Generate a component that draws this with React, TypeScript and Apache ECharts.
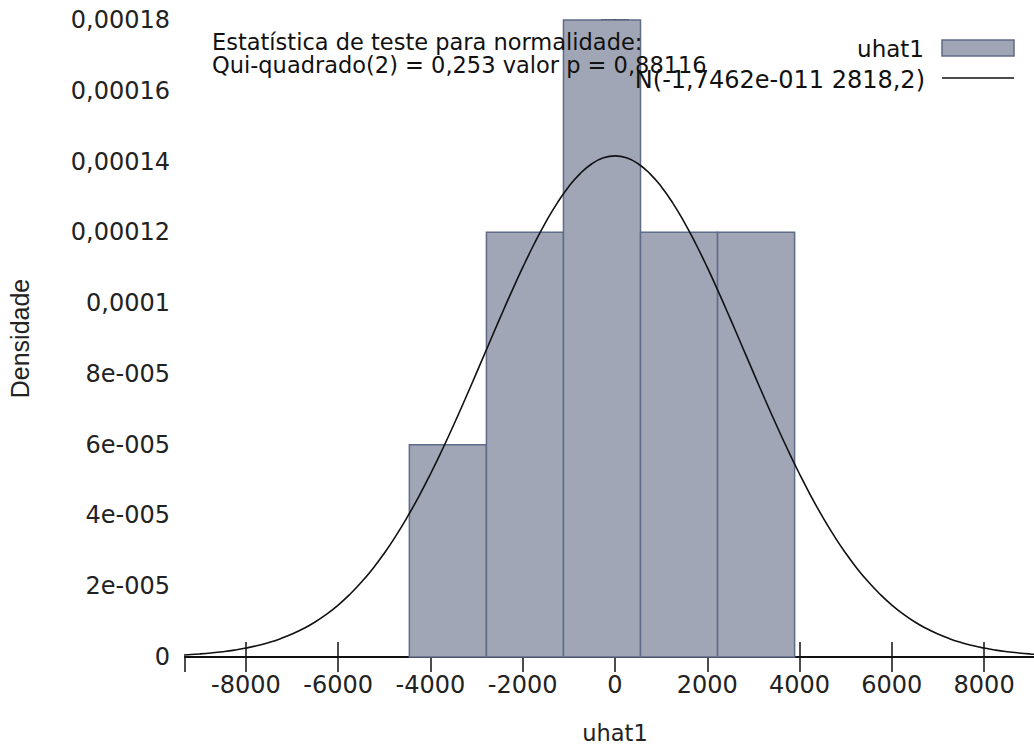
import React, { useEffect, useRef } from "react";
import * as echarts from "echarts";

// Histogram bins: left edge, right edge, density
const binLeft = [-4457, -2787, -1117, 553, 2223];
const binRight = [-2787, -1117, 553, 2223, 3893];
const binDensity = [0.00006, 0.00012, 0.00018, 0.00012, 0.00012];

// Fitted normal curve: N(-1,7462e-011, 2818,2)
const curveX = [
  -9500, -9250, -9000, -8750, -8500, -8250, -8000, -7750, -7500, -7250,
  -7000, -6750, -6500, -6250, -6000, -5750, -5500, -5250, -5000, -4750,
  -4500, -4250, -4000, -3750, -3500, -3250, -3000, -2750, -2500, -2250,
  -2000, -1750, -1500, -1250, -1000, -750, -500, -250, 0,
  250, 500, 750, 1000, 1250, 1500, 1750, 2000, 2250, 2500,
  2750, 3000, 3250, 3500, 3750, 4000, 4250, 4500, 4750, 5000,
  5250, 5500, 5750, 6000, 6250, 6500, 6750, 7000, 7250, 7500,
  7750, 8000, 8250, 8500, 8750, 9000, 9250, 9500,
];
const curveY = [
  4.8e-7, 6.48e-7, 8.6e-7, 1.142e-6, 1.5e-6, 1.95e-6, 2.52e-6, 3.228e-6, 4.1e-6, 5.177e-6,
  6.48e-6, 8.044e-6, 9.9e-6, 1.2111e-5, 1.468e-5, 1.7667e-5, 2.109e-5, 2.4969e-5, 2.934e-5, 3.4211e-5,
  3.958e-5, 4.5415e-5, 5.171e-5, 5.8423e-5, 6.549e-5, 7.2822e-5, 8.035e-5, 8.7963e-5, 9.554e-5, 1.02955e-4,
  1.1008e-4, 1.16771e-4, 1.229e-4, 1.28335e-4, 1.3296e-4, 1.36673e-4, 1.3939e-4, 1.41044e-4, 1.416e-4,
  1.41044e-4, 1.3939e-4, 1.36673e-4, 1.3296e-4, 1.28335e-4, 1.229e-4, 1.16771e-4, 1.1008e-4, 1.02955e-4, 9.554e-5,
  8.7963e-5, 8.035e-5, 7.2822e-5, 6.549e-5, 5.8423e-5, 5.171e-5, 4.5415e-5, 3.958e-5, 3.4211e-5, 2.934e-5,
  2.4969e-5, 2.109e-5, 1.7667e-5, 1.468e-5, 1.2111e-5, 9.9e-6, 8.044e-6, 6.48e-6, 5.177e-6, 4.1e-6,
  3.228e-6, 2.52e-6, 1.95e-6, 1.5e-6, 1.142e-6, 8.6e-7, 6.48e-7, 4.8e-7,
];

const yTickLabels = [
  "0", "2e-005", "4e-005", "6e-005", "8e-005", "0,0001",
  "0,00012", "0,00014", "0,00016", "0,00018",
];

const xName = "uhat1";
const yName = "Densidade";
const seriesName = "uhat1";
const curveName = "N(-1,7462e-011 2818,2)";
const testLine1 = "Estatística de teste para normalidade:";
const testLine2 = "Qui-quadrado(2) = 0,253 valor p = 0,88116";

const FONT = "DejaVu Sans";
const TICK_FS = 24;
const X_MIN = -9320;
const X_MAX = 9320;

export default function App() {
  const ref = useRef<HTMLDivElement>(null);

  useEffect(() => {
    if (!ref.current) return;
    const chart = echarts.init(ref.current, undefined, { renderer: "svg" });

    const histData = binLeft.map((l, i) => [l, binRight[i], binDensity[i]]);
    const curveData = curveX.map((x, i) => [x, curveY[i]]);

    const axisLine = { show: true, lineStyle: { color: "#111", width: 2 } };
    const tickStyle = { color: "#111", width: 1.5 };

    chart.setOption({
      animation: false,
      backgroundColor: "#fff",
      grid: {
        left: 185,
        top: 20,
        width: 860,
        height: 637,
        containLabel: false,
        outerBoundsMode: "none",
      },
      xAxis: [
        {
          type: "value",
          position: "bottom",
          min: X_MIN,
          max: X_MAX,
          splitNumber: 9,
          axisLine,
          axisTick: { show: true, inside: true, length: 15, lineStyle: tickStyle },
          splitLine: { show: false },
          axisLabel: {
            show: true,
            showMinLabel: false,
            showMaxLabel: false,
            margin: 16,
            color: "#222",
            fontFamily: FONT,
            fontSize: TICK_FS,
            formatter: (v: number) => String(v),
          },
          name: xName,
          nameLocation: "middle",
          nameGap: 64,
          nameTextStyle: { color: "#222", fontFamily: FONT, fontSize: 22.5 },
        },
        {
          type: "value",
          position: "top",
          min: X_MIN,
          max: X_MAX,
          splitNumber: 9,
          axisLine,
          axisTick: { show: true, inside: true, length: 15, lineStyle: tickStyle },
          splitLine: { show: false },
          axisLabel: { show: false },
        },
      ],
      yAxis: [
        {
          type: "value",
          position: "left",
          min: 0,
          max: 0.00018,
          interval: 0.00002,
          axisLine,
          axisTick: { show: true, inside: true, length: 14, lineStyle: tickStyle },
          splitLine: { show: false },
          axisLabel: {
            margin: 15,
            color: "#222",
            fontFamily: FONT,
            fontSize: TICK_FS,
            formatter: (v: number) => yTickLabels[Math.round(v / 0.00002)] ?? "",
          },
          name: yName,
          nameLocation: "middle",
          nameGap: 153,
          nameRotate: 90,
          nameTextStyle: { color: "#222", fontFamily: "Liberation Sans", fontSize: 25 },
        },
        {
          type: "value",
          position: "right",
          min: 0,
          max: 0.00018,
          interval: 0.00002,
          axisLine,
          axisTick: { show: true, inside: true, length: 14, lineStyle: tickStyle },
          splitLine: { show: false },
          axisLabel: { show: false },
        },
      ],
      series: [
        {
          name: seriesName,
          type: "custom",
          xAxisIndex: 0,
          yAxisIndex: 0,
          data: histData,
          encode: { x: [0, 1], y: 2 },
          renderItem: (params: any, api: any) => {
            const p0 = api.coord([api.value(0), api.value(2)]);
            const p1 = api.coord([api.value(1), 0]);
            return {
              type: "rect",
              shape: { x: p0[0], y: p0[1], width: p1[0] - p0[0], height: p1[1] - p0[1] },
              style: { fill: "#a0a6b6", stroke: "#5f6b88", lineWidth: 1.5 },
            };
          },
          z: 1,
        },
        {
          name: curveName,
          type: "line",
          xAxisIndex: 0,
          yAxisIndex: 0,
          data: curveData,
          smooth: true,
          showSymbol: false,
          symbol: "none",
          clip: true,
          lineStyle: { color: "#111", width: 1.6 },
          z: 2,
        },
      ],
      graphic: [
        {
          type: "text",
          left: 212,
          top: 30,
          z: 10,
          style: {
            text: testLine1,
            font: `22.5px "${FONT}"`,
            fill: "#111",
            lineHeight: 22,
          },
        },
        {
          type: "text",
          left: 212,
          top: 53,
          z: 10,
          style: {
            text: testLine2,
            font: `22.5px "${FONT}"`,
            fill: "#111",
            lineHeight: 22,
          },
        },
        {
          type: "text",
          x: 924,
          y: 49,
          z: 10,
          style: {
            text: seriesName,
            font: `23px "${FONT}"`,
            fill: "#111",
            align: "right",
            verticalAlign: "middle",
          },
        },
        {
          type: "rect",
          z: 10,
          shape: { x: 942, y: 40, width: 72, height: 16 },
          style: { fill: "#a0a6b6", stroke: "#5f6b88", lineWidth: 1.5 },
        },
        {
          type: "text",
          x: 925,
          y: 80,
          z: 10,
          style: {
            text: curveName,
            font: `24px "${FONT}"`,
            fill: "#111",
            align: "right",
            verticalAlign: "middle",
          },
        },
        {
          type: "line",
          z: 10,
          shape: { x1: 942, y1: 78, x2: 1014, y2: 78 },
          style: { stroke: "#111", lineWidth: 1.5 },
        },
      ],
    });

    return () => chart.dispose();
  }, []);

  return (
    <div
      style={{
        position: "absolute",
        left: 0,
        top: 0,
        width: 1034,
        height: 746,
        overflow: "hidden",
        background: "#fff",
      }}
    >
      <div ref={ref} style={{ width: 1070, height: 746 }} />
    </div>
  );
}
